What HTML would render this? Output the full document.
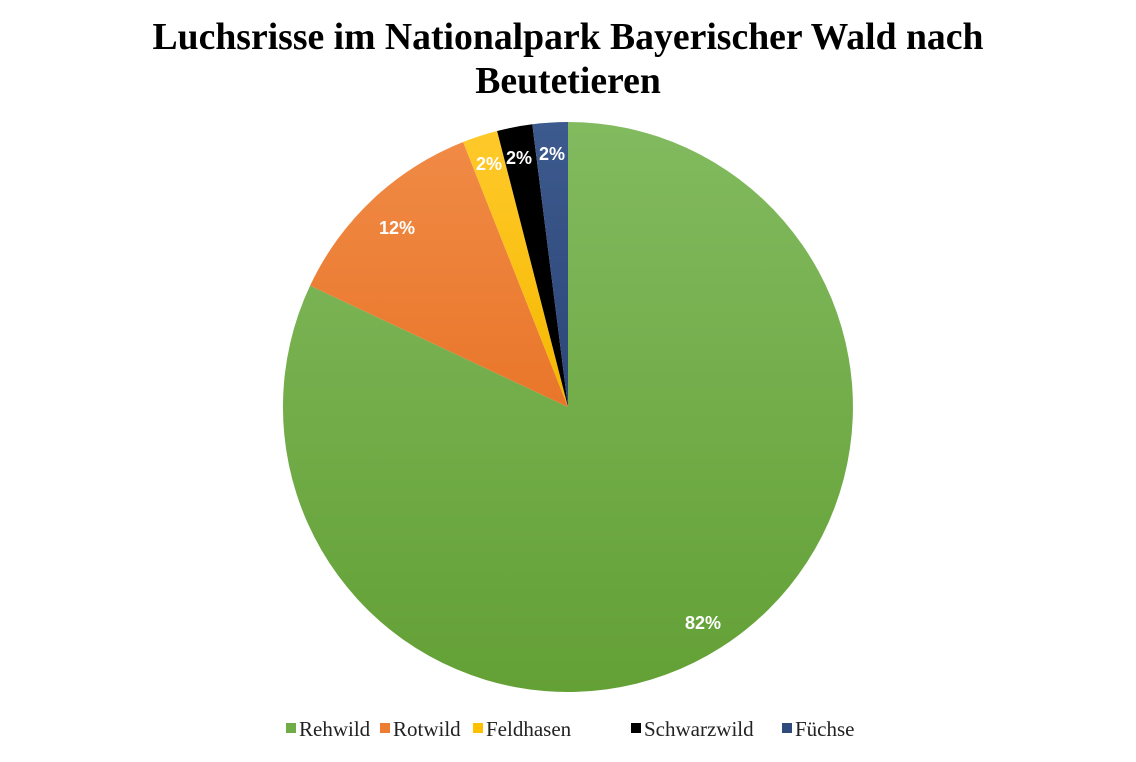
<!DOCTYPE html>
<html><head><meta charset="utf-8"><style>body{margin:0;background:#fff}</style></head>
<body>
<svg width="1136" height="757" xmlns="http://www.w3.org/2000/svg">
<defs>
<linearGradient id="g" x1="0" y1="0" x2="0" y2="1"><stop offset="0" stop-color="#82ba5f"/><stop offset="1" stop-color="#63a035"/></linearGradient>
<linearGradient id="o" x1="0" y1="0" x2="0" y2="1"><stop offset="0" stop-color="#f08a45"/><stop offset="1" stop-color="#e9762a"/></linearGradient>
<linearGradient id="y" x1="0" y1="0" x2="0" y2="1"><stop offset="0" stop-color="#ffc92a"/><stop offset="1" stop-color="#f5b800"/></linearGradient>
<linearGradient id="b" x1="0" y1="0" x2="0" y2="1"><stop offset="0" stop-color="#3d5a8e"/><stop offset="1" stop-color="#2c4677"/></linearGradient>
</defs>
<g font-family="Liberation Serif, serif" font-weight="bold" font-size="37.7" text-anchor="middle" fill="#000">
<text x="568" y="49">Luchsrisse im Nationalpark Bayerischer Wald nach</text>
<text x="568" y="93">Beutetieren</text>
</g>
<path d="M568,407 L568,122 A285,285 0 1 1 310.1,285.6 Z" fill="url(#g)"/>
<path d="M568,407 L310.1,285.6 A285,285 0 0 1 463.1,142 Z" fill="url(#o)"/>
<path d="M568,407 L463.1,142 A285,285 0 0 1 497.1,131 Z" fill="url(#y)"/>
<path d="M568,407 L497.1,131 A285,285 0 0 1 532.3,124.3 Z" fill="#000"/>
<path d="M568,407 L532.3,124.3 A285,285 0 0 1 568,122 Z" fill="url(#b)"/>
<g font-family="Liberation Sans, sans-serif" font-weight="bold" font-size="18" fill="#fff" text-anchor="middle">
<text x="703" y="629">82%</text>
<text x="397" y="234">12%</text>
<text x="489" y="170">2%</text>
<text x="519" y="164">2%</text>
<text x="552" y="160">2%</text>
</g>
<g font-family="Liberation Serif, serif" font-size="21" fill="#222">
<rect x="286" y="723" width="10" height="10" fill="#70ad47"/><text x="299" y="736">Rehwild</text>
<rect x="380" y="723" width="10" height="10" fill="#ed7d31"/><text x="393" y="736">Rotwild</text>
<rect x="473" y="723" width="10" height="10" fill="#ffc000"/><text x="486" y="736">Feldhasen</text>
<rect x="631" y="723" width="10" height="10" fill="#000"/><text x="644" y="736">Schwarzwild</text>
<rect x="782" y="723" width="10" height="10" fill="#2f4b7e"/><text x="795" y="736">Füchse</text>
</g>
</svg>
</body></html>
